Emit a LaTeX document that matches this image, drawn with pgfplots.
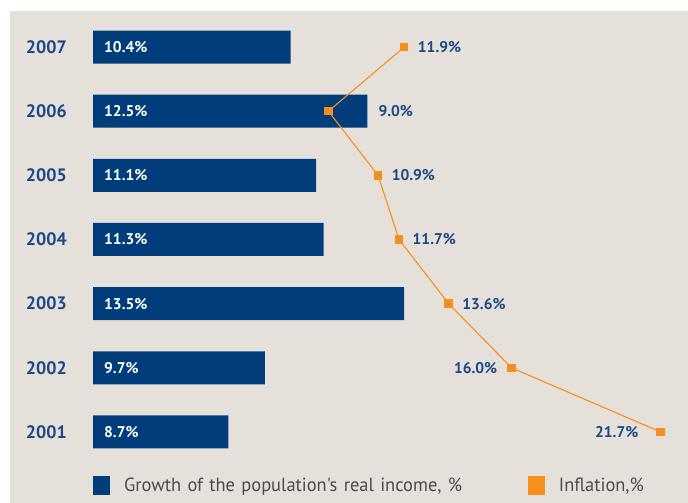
\documentclass[border=0pt]{standalone}
\usepackage{fontspec}
\setmainfont{PT Sans}
\newfontfamily\legfont{PT Sans}[FakeStretch=0.97]
\usepackage{pgfplots}
\usepackage{pgfplotstable}
\pgfplotsset{compat=1.18}
\definecolor{bg}{RGB}{229,225,218}
\definecolor{barblue}{RGB}{0,61,122}
\definecolor{labblue}{RGB}{28,73,133}
\definecolor{infl}{RGB}{247,143,30}
\definecolor{leggray}{RGB}{75,75,75}

\pgfplotstableread{
year income
2001 8.7
2002 9.7
2003 13.5
2004 11.3
2005 11.1
2006 12.5
2007 10.4
}\inctable

\pgfplotstableread{
year infl
2001 21.7
2002 16.0
2003 13.6
2004 11.7
2005 10.9
2006 9.0
2007 11.9
}\infltable

\pgfplotsset{
  pctlabel/.style={nodes near coords={\pgfmathprintnumber[fixed,fixed zerofill,precision=1,assume math mode=true]{\pgfplotspointmeta}\%}},
  infllab/.style={draw=none, mark=none, forget plot, pctlabel,
    point meta=explicit,
    every node near coord/.append style={inner sep=0pt, text=labblue, font=\fontsize{15.5}{17}\selectfont\bfseries}},
}

\begin{document}
\begin{tikzpicture}
\useasboundingbox (0,0) rectangle (688pt,503pt);
\fill[bg] (10pt,0pt) rectangle (688pt,492pt);
\begin{axis}[
  at={(93pt,39pt)}, anchor=south west,
  scale only axis, width=595pt, height=449pt,
  xmin=5, xmax=21.26, ymin=2000.5, ymax=2007.5,
  axis line style={draw=none},
  major tick length=0pt,
  xtick=\empty,
  ytick={2001,2002,2003,2004,2005,2006,2007},
  yticklabels={2001,2002,2003,2004,2005,2006,2007},
  yticklabel style={inner sep=0pt, anchor=east, xshift=-26pt, text=labblue, font=\fontsize{18}{20}\selectfont\bfseries},
]
\addplot[xbar, fill=barblue, draw=none, bar width=33pt] table[x=income, y=year] \inctable;
\addplot[draw=none, mark=none, pctlabel,
  point meta=explicit,
  every node near coord/.append style={anchor=west, xshift=11pt, inner sep=0pt, text=white, font=\fontsize{15.5}{17}\selectfont\bfseries}]
  table[x expr=5, y=year, meta=income] \inctable;
\end{axis}
\begin{axis}[
  at={(93pt,39pt)}, anchor=south west,
  scale only axis, width=595pt, height=449pt,
  xmin=0, xmax=22.75, ymin=2000.5, ymax=2007.5,
  hide axis, clip=false,
  legend columns=2,
  legend style={at={(axis description cs:0,-0.0479)}, anchor=west, draw=none, fill=none, inner sep=0pt,
    font=\legfont\fontsize{19}{22}\selectfont, text=leggray,
    nodes={inner sep=0pt, text width=404pt, align=left},
    /tikz/every odd column/.append style={column sep=14.5pt}},
]
\addlegendimage{legend image code/.code={\fill[barblue] (0pt,-9pt) rectangle (16pt,9pt);}}
\addlegendentry{Growth of the population's real income, \%}
\addlegendimage{legend image code/.code={\fill[infl] (0pt,-9pt) rectangle (16pt,9pt);}}
\addlegendentry{Inflation,\%}
\addplot[forget plot, infl, line width=1.1pt, mark=square*, mark size=3.7pt, mark options={fill=infl, draw=none}]
  table[x=infl, y=year] \infltable;
% label to the left (2001)
\addplot[infllab, skip coords between index={1}{7}, every node near coord/.append style={anchor=east, xshift=-22pt}]
  table[x=infl, y=year, meta=infl] \infltable;
% label to the left (2002)
\addplot[infllab, skip coords between index={0}{1}, skip coords between index={2}{7}, every node near coord/.append style={anchor=east, xshift=-14pt}]
  table[x=infl, y=year, meta=infl] \infltable;
% labels to the right (2003, 2004, 2005, 2007)
\addplot[infllab, skip coords between index={0}{2}, skip coords between index={5}{6}, every node near coord/.append style={anchor=west, xshift=13.5pt}]
  table[x=infl, y=year, meta=infl] \infltable;
% label right of the bar (2006)
\addplot[infllab, skip coords between index={0}{5}, skip coords between index={6}{7}, every node near coord/.append style={anchor=west, xshift=50pt}]
  table[x=infl, y=year, meta=infl] \infltable;
\end{axis}
\end{tikzpicture}
\end{document}
